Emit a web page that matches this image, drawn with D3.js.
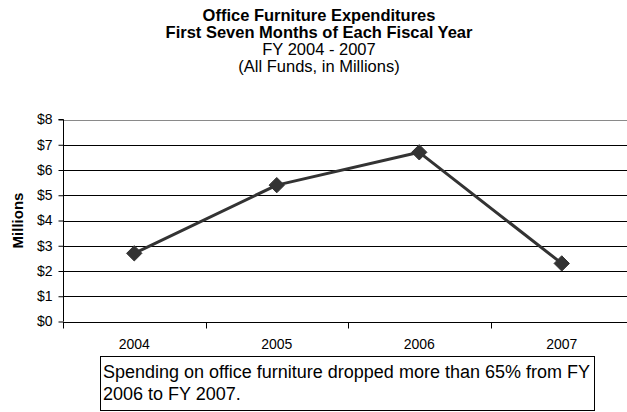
<!DOCTYPE html>
<html>
<head>
<meta charset="utf-8">
<script src="https://cdn.jsdelivr.net/npm/d3@7"></script>
<style>
  html, body { margin: 0; padding: 0; background: #fff; }
  svg { display: block; font-family: "Liberation Sans", Arial, sans-serif; }
</style>
</head>
<body>
<svg id="chart" width="627" height="412"></svg>
<script>
// Fiscal years and spending (millions of dollars)
const years = ["2004", "2005", "2006", "2007"];
const spending = [2.7, 5.4, 6.7, 2.3];
const yTicks = [0, 1, 2, 3, 4, 5, 6, 7, 8];

const titleLines = [
  { text: "Office Furniture Expenditures", bold: true },
  { text: "First Seven Months of Each Fiscal Year", bold: true },
  { text: "FY 2004 - 2007", bold: false },
  { text: "(All Funds, in Millions)", bold: false }
];
const noteLines = [
  "Spending on office furniture dropped more than 65% from FY",
  "2006 to FY 2007."
];

const svg = d3.select("#chart");
const plot = { left: 63, right: 633, top: 119.5, bottom: 321.5 };

const x = d3.scaleBand().domain(years).range([plot.left, plot.right]);
const y = d3.scaleLinear().domain([0, 8]).range([plot.bottom, plot.top]);

// Title block
svg.append("g").selectAll("text")
  .data(titleLines)
  .join("text")
  .attr("x", 319)
  .attr("y", (d, i) => 20.5 + i * 17.3)
  .attr("text-anchor", "middle")
  .attr("font-size", 16.5)
  .attr("font-weight", d => d.bold ? "bold" : "normal")
  .attr("fill", "#000")
  .text(d => d.text);

// Horizontal gridlines
svg.append("g").selectAll("line")
  .data(yTicks.filter(v => v > 0))
  .join("line")
  .attr("x1", plot.left).attr("x2", plot.right)
  .attr("y1", d => Math.round(y(d)) + 0.5).attr("y2", d => Math.round(y(d)) + 0.5)
  .attr("stroke", d => d === 8 ? "#8a8a8a" : "#000")
  .attr("stroke-width", 1);

// Y axis
const yAxis = d3.axisLeft(y)
  .tickValues(yTicks)
  .tickSize(5)
  .tickPadding(6)
  .tickFormat(d => "$" + d);
const gy = svg.append("g")
  .attr("transform", `translate(${plot.left + 0.5},0)`)
  .call(yAxis);
gy.select(".domain").attr("stroke", "#000").attr("d", `M-5,${plot.top}H0V${plot.bottom}`);
gy.selectAll(".tick line").attr("stroke", "#000");
gy.selectAll(".tick text").attr("font-size", 14).attr("fill", "#000")
  .attr("font-family", "'Liberation Sans', Arial, sans-serif");

// X axis with tick marks on category boundaries
const gx = svg.append("g")
  .attr("transform", `translate(0,${Math.round(plot.bottom) + 0.5})`);
gx.append("line")
  .attr("x1", plot.left).attr("x2", plot.right)
  .attr("stroke", "#000");
gx.selectAll("line.tk")
  .data(years)
  .join("line")
  .attr("class", "tk")
  .attr("x1", d => Math.round(x(d)) + 0.5).attr("x2", d => Math.round(x(d)) + 0.5)
  .attr("y1", 0).attr("y2", 6)
  .attr("stroke", "#000");
gx.selectAll("text")
  .data(years)
  .join("text")
  .attr("x", d => x(d) + x.bandwidth() / 2)
  .attr("y", 26.5)
  .attr("text-anchor", "middle")
  .attr("font-size", 14)
  .attr("fill", "#000")
  .text(d => d);

// Y axis title
svg.append("text")
  .attr("transform", `translate(22.5,${(plot.top + plot.bottom) / 2}) rotate(-90)`)
  .attr("text-anchor", "middle")
  .attr("font-size", 15)
  .attr("font-weight", "bold")
  .attr("fill", "#000")
  .text("Millions");

// Spending line
const data = years.map((yr, i) => ({ yr, v: spending[i] }));
const line = d3.line()
  .x(d => x(d.yr) + x.bandwidth() / 2)
  .y(d => y(d.v));
svg.append("path")
  .datum(data)
  .attr("d", line)
  .attr("fill", "none")
  .attr("stroke", "#333333")
  .attr("stroke-width", 3)
  .attr("stroke-linejoin", "round");

// Diamond markers
svg.append("g").selectAll("path")
  .data(data)
  .join("path")
  .attr("transform", d => `translate(${x(d.yr) + x.bandwidth() / 2},${y(d.v)})`)
  .attr("d", d3.symbol().type(d3.symbolDiamond2).size(150))
  .attr("fill", "#333333")
  .attr("stroke", "#333333")
  .attr("stroke-width", 1);

// Annotation box
const note = svg.append("g");
note.append("rect")
  .attr("x", 100.5).attr("y", 356.5)
  .attr("width", 494).attr("height", 54)
  .attr("fill", "#fff")
  .attr("stroke", "#000")
  .attr("stroke-width", 1);
note.selectAll("text")
  .data(noteLines)
  .join("text")
  .attr("x", 103)
  .attr("y", (d, i) => 378 + i * 22)
  .attr("font-size", 18)
  .attr("fill", "#000")
  .text(d => d);
</script>
</body>
</html>
